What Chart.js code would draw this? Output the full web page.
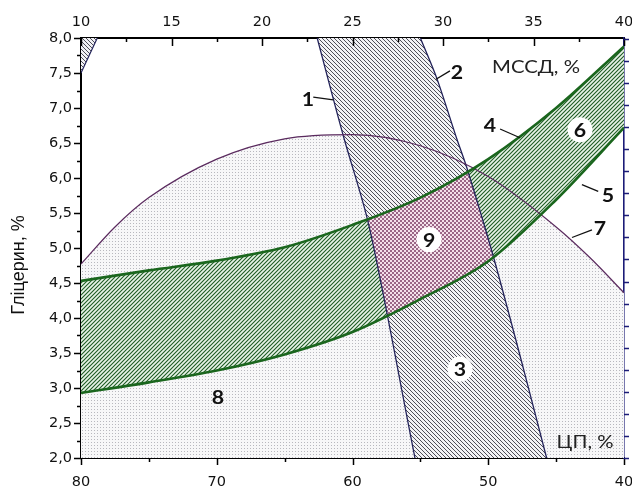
<!DOCTYPE html>
<html><head><meta charset="utf-8">
<script src="https://cdn.jsdelivr.net/npm/chart.js@4.4.1/dist/chart.umd.min.js"></script>
<style>html,body{margin:0;padding:0;background:#fff;}canvas{display:block;}</style>
</head><body>
<canvas id="c" width="632" height="489"></canvas>
<script>
// ---------------- data ----------------
const cpTicks   = [80, 70, 60, 50, 40];            // ЦП, %   (bottom axis, reversed)
const mssdTicks = [10, 15, 20, 25, 30, 35, 40];    // МССД, % (top axis)
const glycTicks = [2.0, 2.5, 3.0, 3.5, 4.0, 4.5, 5.0, 5.5, 6.0, 6.5, 7.0, 7.5, 8.0]; // Гліцерин, %

// curves 4 (upper) and 5 (lower) bounding the green zone 6
const greenX  = [80, 75, 70, 65, 60, 55, 50, 45, 40];
const curve4Y = [4.53, 4.68, 4.82, 5.01, 5.33, 5.72, 6.27, 7.00, 7.88];
const curve5Y = [2.93, 3.08, 3.25, 3.48, 3.80, 4.27, 4.81, 5.69, 6.72];

// curve 7 (limit of zone 8)
const curve7X = [80, 77.5, 75, 70, 65, 60, 55, 50, 45, 42.5, 40];
const curve7Y = [4.77, 5.30, 5.72, 6.27, 6.56, 6.62, 6.46, 6.02, 5.30, 4.86, 4.36];

// curves 1 and 2 bounding zone 3
const curve1X = [62.6, 61.4, 60.6, 58.9, 57.4, 56.4, 55.4];
const curve1Y = [8.0, 7.12, 6.55, 5.41, 4.01, 3.0, 2.0];
const curve2X = [55.0, 53.8, 52.3, 51.6, 49.6, 47.4, 45.7];
const curve2Y = [8.0, 7.43, 6.55, 6.16, 4.86, 3.27, 2.0];

// small zone in the upper-left corner
const cornerX = [78.8, 79.4, 80.0];
const cornerY = [8.0, 7.75, 7.5];

const pts = (xs, ys) => xs.map((x, i) => ({x, y: ys[i]}));

// ---------------- annotation layout (data coordinates) ----------------
const tagLayout = [
  {t: '1', x: 63.28, y: 7.13, lead: [62.89, 7.155, 61.41, 7.116]},
  {t: '2', x: 52.30, y: 7.52, lead: [53.85, 7.41, 52.82, 7.53]},
  {t: '4', x: 49.87, y: 6.76, lead: [49.13, 6.70, 47.66, 6.575]},
  {t: '5', x: 41.18, y: 5.76, lead: [43.10, 5.905, 41.90, 5.81]},
  {t: '7', x: 41.77, y: 5.29, lead: [43.83, 5.15, 42.36, 5.26]},
  {t: '6', x: 43.24, y: 6.69, circle: true},
  {t: '9', x: 54.36, y: 5.12, circle: true},
  {t: '3', x: 52.08, y: 3.27, circle: true},
  {t: '8', x: 69.91, y: 2.88}
];
const axisNotes = [
  {t: 'МССД, %', x: 46.48, y: 7.59},
  {t: 'ЦП, %',   x: 42.87, y: 2.23}
];

// ---------------- patterns ----------------
function tile(size, bg, draw) {
  const c = document.createElement('canvas');
  c.width = c.height = size;
  const g = c.getContext('2d');
  g.fillStyle = bg; g.fillRect(0, 0, size, size);
  draw(g, size);
  return c;
}
function stripes(size, bg, col, w, forward) {
  return tile(size, bg, (g, s) => {
    g.strokeStyle = col; g.lineWidth = w; g.beginPath();
    if (forward) { // "/"
      g.moveTo(-1, s + 1); g.lineTo(s + 1, -1);
      g.moveTo(-1, 1); g.lineTo(1, -1);
      g.moveTo(s - 1, s + 1); g.lineTo(s + 1, s - 1);
    } else {       // "\"
      g.moveTo(-1, -1); g.lineTo(s + 1, s + 1);
      g.moveTo(-1, s - 1); g.lineTo(1, s + 1);
      g.moveTo(s - 1, -1); g.lineTo(s + 1, 1);
    }
    g.stroke();
  });
}
const tiles = {
  dots: tile(3, '#f7f7f8', g => { g.fillStyle = '#b8b8be'; g.fillRect(1, 1, 1, 1); }),
  green: stripes(4, '#e8f4e8', '#1f5a24', 1.1, true),
  band: stripes(4, '#f2f2f5', '#46464f', 0.95, false),
  pink: tile(4, '#f4e0ea', g => { g.fillStyle = '#9a6686'; g.fillRect(0, 0, 2, 2); g.fillRect(2, 2, 2, 2); })
};

// ---------------- plugins ----------------
function stretchText(ctx, text, px, py, sx) {
  ctx.save(); ctx.translate(px, py); ctx.scale(sx, 1); ctx.fillText(text, 0, 0); ctx.restore();
}
const zonesPlugin = {
  id: 'zones',
  beforeDraw(chart) {
    const ctx = chart.ctx;
    ctx.save(); ctx.fillStyle = '#ffffff'; ctx.fillRect(0, 0, chart.width, chart.height); ctx.restore();
  },
  beforeDatasetsDraw(chart) {
    const {ctx, chartArea: a} = chart;
    const pat = k => ctx.createPattern(tiles[k], 'repeat');
    const line = i => { const m = chart.getDatasetMeta(i); m.dataset.updateControlPoints(a, 'x'); return m.dataset; };
    const seg = (l, move, reverse) => l.pathSegment(ctx, l.segments[0], {move, reverse});
    const c4 = line(0), c5 = line(1), c7 = line(2), c1 = line(3), c2 = line(4), cc = line(5);

    const greenPath = () => { ctx.beginPath(); seg(c4, true, false); seg(c5, false, true); ctx.closePath(); };
    const bandPath  = () => { ctx.beginPath(); seg(c1, true, false); seg(c2, false, true); ctx.closePath(); };

    ctx.save();
    ctx.beginPath(); ctx.rect(a.left, a.top, a.right - a.left, a.bottom - a.top); ctx.clip();

    // zone 8: under curve 7
    ctx.beginPath(); seg(c7, true, false);
    ctx.lineTo(a.right, a.bottom); ctx.lineTo(a.left, a.bottom); ctx.closePath();
    ctx.fillStyle = pat('dots'); ctx.fill();

    // zone 6: between curves 4 and 5
    greenPath(); ctx.fillStyle = pat('green'); ctx.fill();

    // zone 3: between curves 1 and 2
    bandPath(); ctx.fillStyle = pat('band'); ctx.fill();

    // zone 9: intersection
    ctx.save(); bandPath(); ctx.clip(); greenPath(); ctx.fillStyle = pat('pink'); ctx.fill(); ctx.restore();

    // upper-left corner zone
    ctx.beginPath(); seg(cc, true, false); ctx.lineTo(a.left, a.top); ctx.closePath();
    ctx.fillStyle = pat('band'); ctx.fill();

    ctx.restore();
  },
  afterDatasetsDraw(chart) {
    const {ctx, scales: {x, y}} = chart;
    ctx.save();
    ctx.strokeStyle = '#111'; ctx.lineWidth = 1.3;
    for (const t of tagLayout) {
      if (!t.lead) continue;
      ctx.beginPath();
      ctx.moveTo(x.getPixelForValue(t.lead[0]), y.getPixelForValue(t.lead[1]));
      ctx.lineTo(x.getPixelForValue(t.lead[2]), y.getPixelForValue(t.lead[3]));
      ctx.stroke();
    }
    ctx.textAlign = 'center'; ctx.textBaseline = 'middle';
    for (const t of tagLayout) {
      const px = x.getPixelForValue(t.x), py = y.getPixelForValue(t.y);
      if (t.circle) {
        ctx.fillStyle = '#fff'; ctx.beginPath(); ctx.arc(px, py, 12.5, 0, Math.PI * 2); ctx.fill();
      }
      ctx.fillStyle = '#111'; ctx.font = 'bold 19px Lato';
      stretchText(ctx, t.t, px, py + 1, 1.12);
    }
    ctx.font = '18px Lato'; ctx.fillStyle = '#222';
    for (const n of axisNotes) stretchText(ctx, n.t, x.getPixelForValue(n.x), y.getPixelForValue(n.y), 1.13);
    ctx.restore();
  },
  afterDraw(chart) {
    const {ctx, chartArea: a, scales: {x, x2, y, y2}} = chart;
    ctx.save();
    ctx.lineWidth = 1.5; ctx.strokeStyle = '#000';
    ctx.beginPath();
    for (let v = 2; v <= 8.001; v += 0.25) {
      const p = Math.round(y.getPixelForValue(v)) + 0.5;
      const len = Math.abs(v * 2 - Math.round(v * 2)) < 1e-6 ? 7 : 4;
      ctx.moveTo(a.left, p); ctx.lineTo(a.left - len, p);
    }
    for (let v = 40; v <= 80; v += 5) {
      const p = Math.round(x.getPixelForValue(v)) + 0.5;
      const len = v % 10 === 0 ? 7 : 4;
      ctx.moveTo(p, a.bottom); ctx.lineTo(p, a.bottom + len);
    }
    for (let v = 10; v <= 40.001; v += 2.5) {
      const p = Math.round(x2.getPixelForValue(v)) + 0.5;
      const len = Math.abs(v % 5) < 1e-6 ? 8 : 4;
      ctx.moveTo(p, a.top); ctx.lineTo(p, a.top + len);
    }
    ctx.stroke();
    ctx.strokeStyle = '#1c1c78'; ctx.lineWidth = 1.4;
    ctx.beginPath();
    for (let v = 0; v <= 19; v += 1) {
      const p = Math.round(y2.getPixelForValue(v)) + 0.5;
      ctx.moveTo(a.right, p); ctx.lineTo(a.right + 5, p);
    }
    ctx.stroke();
    // y axis title
    ctx.translate(19, (a.top + a.bottom) / 2 + 17);
    ctx.rotate(-Math.PI / 2);
    ctx.fillStyle = '#111'; ctx.font = '18px "Liberation Sans"';
    ctx.textAlign = 'center'; ctx.textBaseline = 'middle';
    ctx.fillText('Гліцерин, %', 0, 0);
    ctx.restore();
  }
};

// ---------------- chart ----------------
Chart.defaults.font.family = '"DejaVu Sans", Arial, sans-serif';
Chart.defaults.color = '#111';

const lineDs = (label, data, color, width, extra) => Object.assign({
  label, data, borderColor: color, borderWidth: width, pointRadius: 0, fill: false, showLine: true
}, extra);

const noGrid = {display: false, drawTicks: false};
const tickFont = {size: 14.5, family: '"DejaVu Sans", Arial, sans-serif'};
const noPadH = s => { s.paddingLeft = 0; s.paddingRight = 0; };
const noPadV = s => { s.paddingTop = 0; s.paddingBottom = 0; };

new Chart(document.getElementById('c'), {
  type: 'line',
  data: {
    datasets: [
      lineDs('4', pts(greenX, curve4Y), '#1a661d', 2.6, {cubicInterpolationMode: 'monotone'}),
      lineDs('5', pts(greenX, curve5Y), '#1a661d', 2.6, {cubicInterpolationMode: 'monotone'}),
      lineDs('7', pts(curve7X, curve7Y), '#5a2a5e', 1.2, {cubicInterpolationMode: 'monotone'}),
      lineDs('1', pts(curve1X, curve1Y), '#23235a', 1.3, {tension: 0.3}),
      lineDs('2', pts(curve2X, curve2Y), '#23235a', 1.3, {tension: 0.3}),
      lineDs('c', pts(cornerX, cornerY), '#23235a', 1.2, {tension: 0.3})
    ]
  },
  options: {
    responsive: false,
    animation: false,
    devicePixelRatio: 1,
    layout: {padding: 0},
    plugins: {legend: {display: false}, tooltip: {enabled: false}},
    scales: {
      x: {
        type: 'linear', position: 'bottom', reverse: true, min: 40, max: 80, z: 1,
        grid: noGrid, border: {display: true, color: '#000', width: 2},
        afterBuildTicks: s => { s.ticks = cpTicks.map(v => ({value: v})); },
        ticks: {autoSkip: false, maxRotation: 0, padding: 16, font: tickFont, callback: v => String(v)},
        afterFit: s => { s.height = 31; noPadH(s); }
      },
      x2: {
        type: 'linear', position: 'top', min: 10, max: 40, z: 1,
        grid: noGrid, border: {display: true, color: '#000', width: 2},
        afterBuildTicks: s => { s.ticks = mssdTicks.map(v => ({value: v})); },
        ticks: {autoSkip: false, maxRotation: 0, padding: 7, font: tickFont, callback: v => String(v)},
        afterFit: s => { s.height = 38; noPadH(s); }
      },
      y: {
        type: 'linear', position: 'left', min: 2, max: 8, z: 1,
        grid: noGrid, border: {display: true, color: '#000', width: 2},
        afterBuildTicks: s => { s.ticks = glycTicks.map(v => ({value: v})); },
        ticks: {autoSkip: false, padding: 9, font: tickFont, callback: v => v.toFixed(1).replace('.', ',')},
        afterFit: s => { s.width = 81; noPadV(s); }
      },
      y2: {
        type: 'linear', position: 'right', min: 0, max: 19.04, z: 1,
        grid: noGrid, border: {display: true, color: '#1c1c78', width: 1.6},
        ticks: {display: false},
        afterFit: s => { s.width = 8; noPadV(s); }
      }
    }
  },
  plugins: [zonesPlugin]
});
</script>
</body></html>
